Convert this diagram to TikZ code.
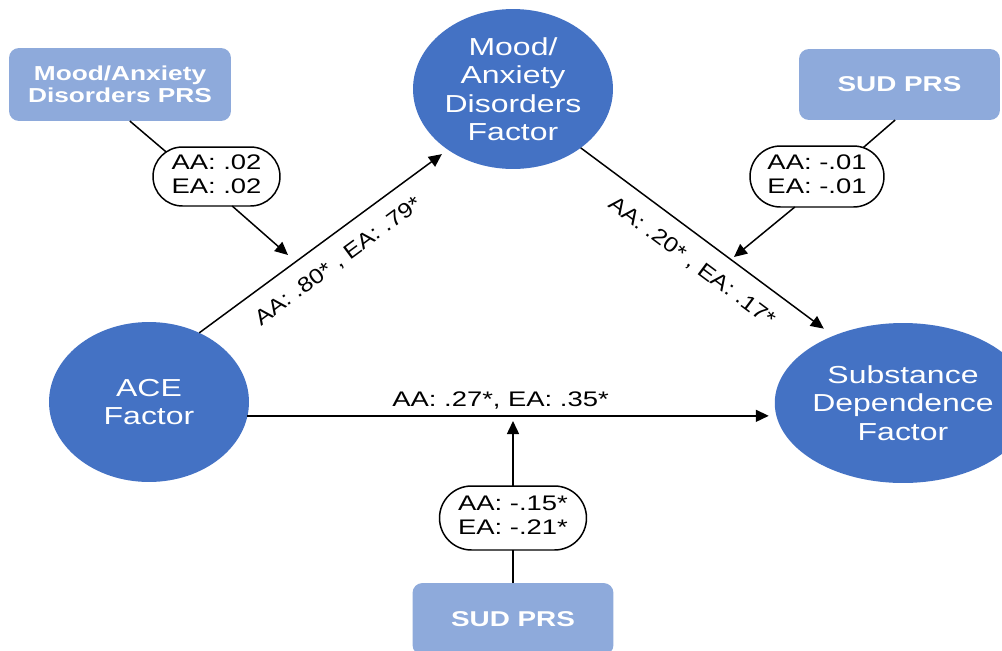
\documentclass[tikz,border=0pt]{standalone}
\usepackage{fontspec}
\setmainfont[FakeStretch=1.3]{Liberation Sans}
\usetikzlibrary{shapes.geometric,shapes.misc,arrows.meta}
\definecolor{factorblue}{HTML}{4472C4}
\definecolor{prsblue}{HTML}{8EAADB}
\newcommand{\modlines}[2]{\makebox[0pt]{\begin{tabular}{@{}c@{}}#1\\#2\end{tabular}}}
\newcommand{\slopetext}[1]{\scalebox{0.9}[1]{#1}}

\begin{document}
\begin{tikzpicture}[x=0.02cm,y=-0.02cm,
  factor/.style={ellipse,fill=factorblue,text=white,minimum width=4cm,minimum height=3.2cm,inner sep=0pt,outer sep=0pt,align=center,font=\fontsize{14pt}{16.2pt}\selectfont},
  prs/.style={rectangle,rounded corners=0.2cm,fill=prsblue,text=white,align=center,inner sep=0pt,outer sep=0pt,font=\fontsize{12.2pt}{12.7pt}\selectfont\bfseries},
  modbox/.style={rounded rectangle,draw,line width=0.85pt,fill=white,inner sep=0pt,outer sep=0pt,minimum height=1.2cm,font=\fontsize{12pt}{13.7pt}\selectfont},
  arr/.style={line width=0.85pt,-{Triangle[length=0.26cm,width=0.24cm]}},
  edgelabel/.style={font=\fontsize{12pt}{14pt}\selectfont}]
\useasboundingbox (0,0) rectangle (1002,650);
\clip (0,0) rectangle (1002,650);
% factors
\node[factor] (ace) at (149,402) {ACE\\Factor};
\node[factor] (mood) at (513,89) {Mood/\\Anxiety\\Disorders\\Factor};
\node[factor] (sud) at (903,403) {Substance\\Dependence\\Factor};
% polygenic risk scores
\node[prs,minimum width=4.44cm,minimum height=1.46cm,font=\fontsize{11.5pt}{12.7pt}\selectfont\bfseries] (maprs) at (120,84.5) {Mood/Anxiety\\Disorders PRS};
\node[prs,minimum width=4.02cm,minimum height=1.42cm] (sudprsa) at (899.5,84.5) {SUD PRS};
\node[prs,minimum width=4.02cm,minimum height=1.44cm] (sudprsb) at (513,619) {SUD PRS};
% moderation estimates
\node[modbox,minimum width=2.54cm,minimum height=1.18cm] (moda) at (216.5,176.5) {\modlines{AA: .02}{EA: .02}};
\node[modbox,minimum width=2.68cm,minimum height=1.22cm] (modb) at (817,176.5) {\modlines{AA: -.01}{EA: -.01}};
\node[modbox,minimum width=2.94cm,minimum height=1.28cm] (modc) at (513,518) {\modlines{AA: -.15*}{EA: -.21*}};
\coordinate (ta) at (288,255);
\coordinate (tb) at (734,257);
\coordinate (tc) at (513,421);
% paths
\draw[arr,shorten >=0.15cm] (ace.54) -- node[sloped,below=0.2cm,edgelabel]{\slopetext{AA: .80* , EA: .79*}} (mood.223); %
\draw[arr,shorten >=0.24cm] (mood.-41) -- node[sloped,below=0.2cm,edgelabel]{\slopetext{AA: .20* , EA: .17*}} (sud.136); %
\draw[arr,shorten >=0.12cm] (ace.-8) -- node[pos=0.48,above,edgelabel]{AA: .27*, EA: .35*} (ace.-8 -| sud.west); %
% moderators
\draw[line width=0.85pt] (maprs.-75) -- (moda.154); %
\draw[arr] (moda.-62) -- (ta); %
\draw[line width=0.85pt] (sudprsa.-97) -- (modb.32); %
\draw[arr] (modb.-126) -- (tb); %
\draw[line width=0.85pt] (sudprsb.north) -- (modc.south); %
\draw[arr] (modc.north) -- (tc); %
\end{tikzpicture}
\end{document}
